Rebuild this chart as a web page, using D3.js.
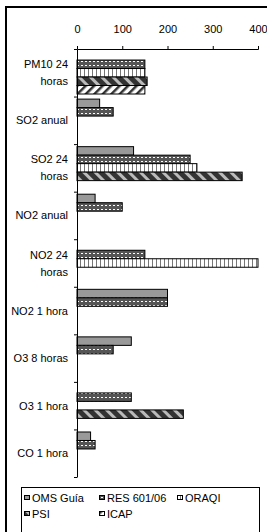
<!DOCTYPE html>
<html>
<head>
<meta charset="utf-8">
<style>
  body { margin: 0; background: #fff; }
  text { font-family: "Liberation Sans", Arial, sans-serif; fill: #000; }
</style>
</head>
<body>

<script src="https://d3js.org/d3.v7.min.js"></script>
<script>

const width = 267;
const height = 532;

// data
const categories = ['PM10 24 horas', 'SO2 anual', 'SO2 24 horas', 'NO2 anual', 'NO2 24 horas',
                    'NO2 1 hora', 'O3 8 horas', 'O3 1 hora', 'CO 1 hora'];
const categoryLines = [['PM10 24', 'horas'], ['SO2 anual'], ['SO2 24', 'horas'], ['NO2 anual'],
                       ['NO2 24', 'horas'], ['NO2 1 hora'], ['O3 8 horas'], ['O3 1 hora'], ['CO 1 hora']];
const seriesNames = ['OMS Guía', 'RES 601/06', 'ORAQI', 'PSI', 'ICAP'];
const omsGuia = [null, 50, 125, 40, null, 200, 120, null, 30];
const res601 = [150, 80, 250, 100, 150, 200, 80, 120, 40];
const oraqi = [150, null, 265, null, 400, null, null, null, null];
const psi = [155, null, 365, null, null, null, null, 235, null];
const icap = [150, null, null, null, null, null, null, null, null];
const xTicks = [0, 100, 200, 300, 400];

const seriesValues = [omsGuia, res601, oraqi, psi, icap];
const fills = ['#999999', 'url(#pRes)', 'url(#pOraqi)', 'url(#pPsi)', 'url(#pIcap)'];

const svg = d3.select('body')
              .append('svg')
              .attr('width', width)
              .attr('height', height);

// patterns
const defs = svg.append('defs');

const pRes = defs.append('pattern').attr('id', 'pRes')
  .attr('patternUnits', 'userSpaceOnUse').attr('width', 4).attr('height', 4);
pRes.append('rect').attr('width', 4).attr('height', 4).attr('fill', '#555');
pRes.append('rect').attr('x', 1).attr('y', 1).attr('width', 2).attr('height', 1).attr('fill', '#fff');

const pOraqi = defs.append('pattern').attr('id', 'pOraqi')
  .attr('patternUnits', 'userSpaceOnUse').attr('width', 4).attr('height', 4);
pOraqi.append('rect').attr('width', 4).attr('height', 4).attr('fill', '#fff');
pOraqi.append('rect').attr('x', 0).attr('width', 1).attr('height', 4).attr('fill', '#777');

const pPsi = defs.append('pattern').attr('id', 'pPsi')
  .attr('patternUnits', 'userSpaceOnUse').attr('width', 8).attr('height', 8)
  .attr('patternTransform', 'rotate(-45)');
pPsi.append('rect').attr('width', 8).attr('height', 8).attr('fill', '#333');
pPsi.append('rect').attr('width', 3).attr('height', 8).attr('fill', '#bbb');

const pIcap = defs.append('pattern').attr('id', 'pIcap')
  .attr('patternUnits', 'userSpaceOnUse').attr('width', 6).attr('height', 6)
  .attr('patternTransform', 'rotate(45)');
pIcap.append('rect').attr('width', 6).attr('height', 6).attr('fill', '#fff');
pIcap.append('rect').attr('width', 2.5).attr('height', 6).attr('fill', '#333');

// outer frame
svg.append('rect')
  .attr('x', 6).attr('y', 7)
  .attr('width', width + 10).attr('height', height + 10)
  .attr('fill', 'none').attr('stroke', '#000').attr('stroke-width', 2);

// scales
const x = d3.scaleLinear().domain([0, 400]).range([77, 258]);
const y0 = d3.scaleBand().domain(categories).range([49, 477]);
const y1 = d3.scaleBand().domain(seriesNames).range([0, y0.bandwidth()]).paddingOuter(0.3);

// bars
seriesNames.forEach((s, si) => {
  const data = categories.map((c, ci) => ({ c, v: seriesValues[si][ci] }))
                         .filter(d => d.v != null);
  svg.append('g').selectAll('rect')
    .data(data)
    .enter()
    .append('rect')
      .attr('x', x(0))
      .attr('y', d => y0(d.c) + y1(s))
      .attr('width', d => x(d.v) - x(0))
      .attr('height', y1.bandwidth())
      .attr('fill', fills[si])
      .attr('stroke', '#000')
      .attr('stroke-width', 1);
});

// top axis
const xAxis = svg.append('g')
  .attr('transform', 'translate(0,49)')
  .call(d3.axisTop(x).tickValues(xTicks).tickSize(3).tickPadding(13).tickSizeOuter(3));
xAxis.selectAll('text').attr('font-size', 11).style('font-family', '"Liberation Sans", Arial, sans-serif');

// left axis with ticks at category boundaries
const yEdges = d3.scaleLinear().domain([0, categories.length]).range([49, 477]);
svg.append('g')
  .attr('transform', 'translate(77,0)')
  .call(d3.axisLeft(yEdges).tickValues(d3.range(0, categories.length + 1)).tickSize(3).tickSizeOuter(0).tickFormat(''));

// category labels
categories.forEach((c, ci) => {
  const lines = categoryLines[ci];
  const cy = y0(c) + y0.bandwidth() / 2;
  const t = svg.append('text')
    .attr('text-anchor', 'end')
    .attr('font-size', 11)
    .attr('x', 68);
  lines.forEach((l, li) => {
    t.append('tspan')
      .attr('x', 68)
      .attr('y', cy + (li - (lines.length - 1) / 2) * 17 + 4)
      .text(l);
  });
});

// legend
const legend = svg.append('g');
legend.append('rect')
  .attr('x', 21.5).attr('y', 487.5)
  .attr('width', 238).attr('height', 60)
  .attr('fill', '#fff').attr('stroke', '#000').attr('stroke-width', 1);

const legendPos = [[24, 498], [99, 498], [177, 498], [24, 514], [99, 514]];
seriesNames.forEach((s, si) => {
  const [lx, ly] = legendPos[si];
  legend.append('rect')
    .attr('x', lx + 0.5).attr('y', ly - 2.5)
    .attr('width', 5).attr('height', 4)
    .attr('fill', fills[si]).attr('stroke', '#000');
  legend.append('text')
    .attr('x', lx + 8).attr('y', ly + 4)
    .attr('font-size', 11)
    .text(s);
});

</script>
</body>
</html>
